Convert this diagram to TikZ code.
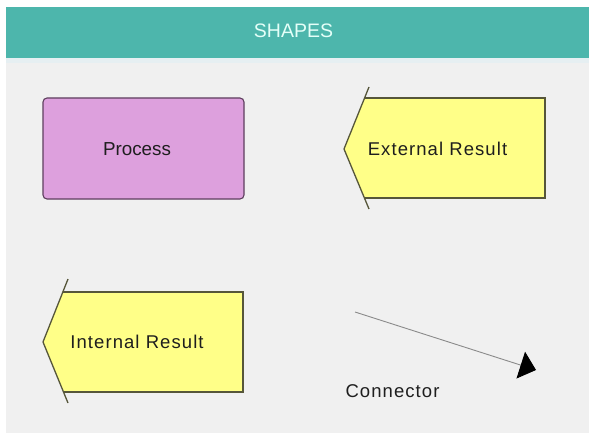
\documentclass[tikz,border=0pt]{standalone}
\usepackage{fontspec}
\setmainfont{Liberation Sans}
\newfontfamily\widesans[LetterSpace=5.8]{Liberation Sans}
\usetikzlibrary{arrows.meta}
\definecolor{shapeteal}{HTML}{4DB6AC}
\definecolor{shapestrip}{HTML}{E6EFF2}
\definecolor{shapepanel}{HTML}{F0F0F0}
\definecolor{shapeplum}{HTML}{DDA0DD}
\definecolor{shapeplumline}{HTML}{5E3F5E}
\definecolor{shapeyellow}{HTML}{FFFF88}
\definecolor{shapeolive}{HTML}{56563A}
\definecolor{shapetitle}{HTML}{E4FFF8}
\definecolor{shapeink}{HTML}{1E1E1E}
\definecolor{shapewire}{HTML}{8A8A8A}
\tikzset{
  header bar/.style={fill=shapeteal, draw=none},
  process box/.style={rectangle, rounded corners=4pt, fill=shapeplum,
    draw=shapeplumline, line width=1.1pt, minimum width=201pt,
    minimum height=101pt, inner sep=0pt},
  result edge/.style={draw=shapeolive, line width=1.3pt, line join=miter},
  process label/.style={font=\fontsize{18.8}{22}\selectfont, text=shapeink,
    inner sep=0pt},
  shape label/.style={font=\widesans\fontsize{18.5}{22}\selectfont,
    text=shapeink, inner sep=0pt},
  title label/.style={font=\fontsize{19.5}{23}\selectfont, text=shapetitle,
    inner sep=0pt},
  connector line/.style={draw=shapewire, line width=0.9pt,
    -{Triangle[length=16pt, width=28pt, color=black]}},
}

\begin{document}
\begin{tikzpicture}[x=1pt, y=-1pt]
  \useasboundingbox (0,0) rectangle (589,433);
  % Panel and title bar.
  \fill[shapepanel] (6,7) rectangle (589,433);
  \fill[shapestrip] (6,58) rectangle (589,63);
  \fill[header bar] (6,7) rectangle (589,58);
  \node[title label] (title) at (293.5,30.5) {SHAPES};

  % Process: rounded plum box.
  \node[process box] (proc) at (143.5,148.5) {};
  \node[process label] (proclabel) at (137,148.7) {Process};

  % External result: yellow flag with a chevron on its left side.
  \begin{scope}[shift={(344,149)}]
    \coordinate (ertip) at (0,0);
    \coordinate (ertop) at (25,-62);
    \coordinate (erbottom) at (25,60);
    \fill[shapeyellow] (20.6,-51) -- (201,-51) -- (201,49) -- (20.4,49)
      -- (ertip) -- cycle;
    \draw[result edge] (20.6,-51) -- (201,-51) -- (201,49) -- (20.4,49);
    \draw[result edge] (ertop) -- (ertip) -- (erbottom);
    \node[shape label] (extres) at (93.5,0) {External Result};
  \end{scope}

  % Internal result: the same flag, lower left.
  \begin{scope}[shift={(43,342)}]
    \coordinate (irtip) at (0,0);
    \coordinate (irtop) at (25,-63);
    \coordinate (irbottom) at (25,61);
    \fill[shapeyellow] (19.8,-50) -- (200,-50) -- (200,50) -- (20.5,50)
      -- (irtip) -- cycle;
    \draw[result edge] (19.8,-50) -- (200,-50) -- (200,50) -- (20.5,50);
    \draw[result edge] (irtop) -- (irtip) -- (irbottom);
    \node[shape label] (intres) at (94,-0.5) {Internal Result};
  \end{scope}

  % Connector: a plain arrow with its caption.
  \coordinate (c1) at (355,312);
  \coordinate (c2) at (536,370);
  \draw[connector line] (c1) -- (c2);
  \node[shape label] (conlabel) at (392.5,390.8) {Connector};
\end{tikzpicture}
\end{document}
